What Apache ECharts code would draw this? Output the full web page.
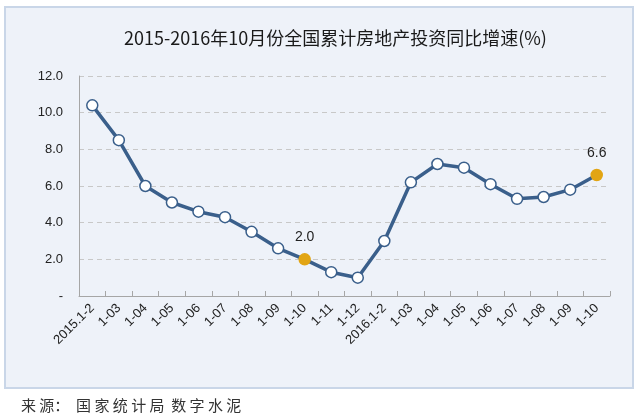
<!DOCTYPE html>
<html><head><meta charset="utf-8">
<script src="https://cdn.jsdelivr.net/npm/echarts@6/dist/echarts.min.js"></script>
<style>html,body{margin:0;padding:0;background:#fff;}#c{width:640px;height:418px;}</style>
</head><body><div id="c"></div>
<script>
var categories = ['2015.1-2','1-03','1-04','1-05','1-06','1-07','1-08','1-09','1-10','1-11','1-12','2016.1-2','1-03','1-04','1-05','1-06','1-07','1-08','1-09','1-10'];
var values = [10.4, 8.5, 6.0, 5.1, 4.6, 4.3, 3.5, 2.6, 2.0, 1.3, 1.0, 3.0, 6.2, 7.2, 7.0, 6.1, 5.3, 5.4, 5.8, 6.6];
var highlighted = [8, 19];
var yTicks = [0, 2, 4, 6, 8, 10, 12];

var chart = echarts.init(document.getElementById('c'));
var data = values.map(function(v, i){
  if (highlighted.indexOf(i) >= 0) {
    return {value: v, itemStyle: {color: '#E2A514', borderColor: '#E2A514'},
      label: {show: true, position: 'top', distance: 9, formatter: function(p){return p.value.toFixed(1);}, fontSize: 14, color: '#222', fontFamily: 'Liberation Sans'}};
  }
  return v;
});
chart.setOption({
  backgroundColor: '#ffffff',
  graphic: [{type: 'rect', z: -10, shape: {x: 5, y: 7, width: 628, height: 381},
    style: {fill: '#EEF2F9', stroke: '#C9D6E8', lineWidth: 2}},
    {type: 'text', left: 21, top: 398, style: {text: '来 源：  国 家 统 计 局  数 字 水 泥', fontSize: 15, fill: '#333', fontFamily: 'Noto Sans CJK SC'}}],
  title: {text: '2015-2016年10月份全国累计房地产投资同比增速(%)', left: 119, top: 24,
    textStyle: {fontSize: 18, fontWeight: 'normal', color: '#1a1a1a', fontFamily: 'Noto Sans CJK SC'}},
  grid: {left: 79, right: 30, top: 76, bottom: 122},
  xAxis: {type: 'category', data: categories, boundaryGap: true,
    axisLine: {lineStyle: {color: '#A6A6A6', width: 1}},
    axisTick: {show: true, inside: true, length: 5, lineStyle: {color: '#A6A6A6'}},
    axisLabel: {rotate: 45, interval: 0, fontSize: 13, color: '#222', margin: 10, fontFamily: 'Liberation Sans'}},
  yAxis: {type: 'value', min: 0, max: 12, interval: 2,
    axisLine: {show: true, lineStyle: {color: '#A6A6A6'}},
    axisTick: {show: false},
    splitLine: {lineStyle: {color: '#C8C8C8', type: [5, 4]}},
    axisLabel: {fontSize: 13, color: '#222', margin: 16, fontFamily: 'Liberation Sans',
      formatter: function(v){ return v === 0 ? '-' : v.toFixed(1); }}},
  series: [{type: 'line', data: data, symbol: 'circle', symbolSize: 11,
    lineStyle: {color: '#3A5F8B', width: 3.5},
    itemStyle: {color: '#ffffff', borderColor: '#3A5F8B', borderWidth: 1.5},
    animation: false}]
});
</script></body></html>
